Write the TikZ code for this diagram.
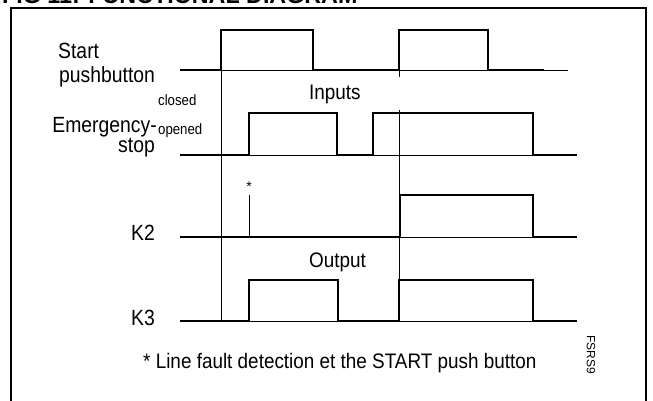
\documentclass[tikz,border=0pt]{standalone}
\usepackage{fontspec}
\setmainfont{Liberation Sans}
\newcommand{\nar}[1]{\scalebox{0.88}[1]{#1}}
\newcommand{\narb}[1]{\scalebox{0.9}[1]{#1}}
\begin{document}
\begin{tikzpicture}[x=1pt,y=-1pt,
  sig/.style={line width=2.9pt, line join=miter},
  thin/.style={line width=0.8pt},
  lab/.style={inner sep=0pt, font=\fontsize{22}{25}\selectfont},
  smalllab/.style={inner sep=0pt, font=\fontsize{15}{18}\selectfont},
  midlab/.style={inner sep=0pt, font=\fontsize{21}{24}\selectfont}]
\useasboundingbox (0,0) rectangle (653,401);
\begin{scope}
\clip (0,0) rectangle (653,401);
% title (cut off at the top)
\node[inner sep=0pt, anchor=base west, font=\fontsize{24}{28}\selectfont\bfseries] (title) at (2,4) {\scalebox{0.97}[1]{FIG 11: FUNCTIONAL DIAGRAM}};
% frame
\draw[line width=2.5pt] (11,420) -- (11,8) -- (646,8) -- (646,420);
\end{scope}

% thin reference lines
\draw[thin] (221,70) -- (568,70);
\draw[thin] (180,155) -- (577,155);
\draw[thin] (180,237) -- (577,237);
\draw[thin] (180,321) -- (577,321);
\draw[thin] (221,70) -- (221,321);
\draw[thin] (399,70) -- (399,77);
\draw[thin] (399,110) -- (399,280);
\draw[thin] (249,195) -- (249,237);

% signals
\draw[sig] (180,70) -- (221,70) -- (221,30) -- (313,30) -- (313,70) -- (399,70) -- (399,30) -- (488,30) -- (488,70) -- (544,70);
\draw[sig] (180,155) -- (249,155) -- (249,113) -- (337,113) -- (337,155) -- (373,155) -- (373,113) -- (533,113) -- (533,155) -- (577,155);
\draw[sig] (180,237) -- (400,237) -- (400,195) -- (533,195) -- (533,237) -- (577,237);
\draw[sig] (180,321) -- (249,321) -- (249,280) -- (338,280) -- (338,321) -- (399,321) -- (399,280) -- (533,280) -- (533,321) -- (577,321);

% labels
\node[lab, anchor=base west] (start) at (58,59) {\nar{Start}};
\node[lab, anchor=base west] (push) at (59,83) {\nar{pushbutton}};
\node[lab, anchor=base east] (emer) at (157,132) {\nar{Emergency-}};
\node[lab, anchor=base east] (stop) at (155,153) {\nar{stop}};
\node[smalllab, anchor=base west] (closed) at (158,106) {\nar{closed}};
\node[smalllab, anchor=base west] (opened) at (158,135) {\nar{opened}};
\node[midlab, anchor=base west] (inputs) at (309,100) {\narb{Inputs}};
\node[midlab, anchor=base west] (output) at (309,267) {\narb{Output}};
\node[lab, anchor=base east] (k2) at (155,240) {\nar{K2}};
\node[lab, anchor=base east] (k3) at (155,325) {\nar{K3}};
\node[inner sep=0pt, font=\fontsize{14}{16}\selectfont] (star) at (249,187) {*};
\node[midlab, anchor=base west] (foot) at (143,368) {\narb{* Line fault detection et the START push button}};
\node[inner sep=0pt, rotate=-90, font=\fontsize{12}{14}\selectfont] (fsrs) at (591,355) {FSRS9};
\end{tikzpicture}
\end{document}
